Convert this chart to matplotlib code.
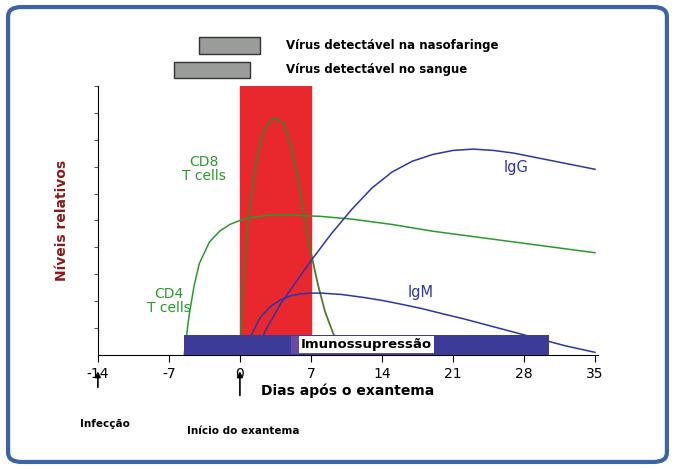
import matplotlib
matplotlib.use("Agg")
import matplotlib.pyplot as plt
from matplotlib.patches import FancyBboxPatch, Rectangle

# data (relative levels)
cd8_x = [0, 0.3, 0.8, 1.5, 2.2, 3.0, 3.6, 4.3, 5.0, 5.7, 6.4, 7.0, 7.7, 8.4, 9.2, 10.0, 10.6]
cd8_y = [0, 2.5, 5.0, 7.0, 8.2, 8.7, 8.8, 8.6, 7.8, 6.6, 5.0, 3.8, 2.6, 1.6, 0.8, 0.2, 0]
cd4_x = [-5.5, -5.0, -4.5, -4.0, -3.0, -2.0, -1.0, 0, 1, 3, 5, 8, 11, 15, 19, 23, 27, 31, 35]
cd4_y = [0, 1.5, 2.6, 3.4, 4.2, 4.6, 4.85, 5.0, 5.1, 5.2, 5.2, 5.15, 5.05, 4.85, 4.6, 4.4, 4.2, 4.0, 3.8]
igg_x = [1.5, 2.5, 4, 5.5, 7, 9, 11, 13, 15, 17, 19, 21, 23, 25, 27, 29, 31, 33, 35]
igg_y = [0, 0.9, 1.9, 2.7, 3.5, 4.5, 5.4, 6.2, 6.8, 7.2, 7.45, 7.6, 7.65, 7.6, 7.5, 7.35, 7.2, 7.05, 6.9]
igm_x = [0.5, 1.2, 2, 3, 4, 5, 6, 7, 8, 10, 12, 14, 16, 18, 20, 22, 24, 26, 28, 30, 32, 35]
igm_y = [0, 0.8, 1.4, 1.8, 2.05, 2.2, 2.27, 2.3, 2.3, 2.25, 2.15, 2.03, 1.88, 1.72, 1.53, 1.35, 1.15, 0.95, 0.75, 0.55, 0.35, 0.1]
rash = (0, 7)
immuno = (-5.5, 30.5)
immuno_inner = (5, 19)
naso = (-4, 2)
blood = (-6.5, 1)
xticks = [-14, -7, 0, 7, 14, 21, 28, 35]

GREEN = "#2a9a2a"
BLUE = "#2b36a8"

fig = plt.figure(figsize=(6.75, 4.69), dpi=100)
frame = FancyBboxPatch((0.012, 0.015), 0.976, 0.97, boxstyle="round,pad=0,rounding_size=0.02",
                       transform=fig.transFigure, fc="white", ec="#3a63a8", lw=3, zorder=-10)
fig.patches.append(frame)
ax = fig.add_axes([0.145, 0.243, 0.741, 0.574])
ax.patch.set_alpha(0)
ax.set_xlim(-14, 35.3)
ax.set_ylim(0, 10)

ax.axvspan(*rash, color="#e8282c", zorder=1)
ax.plot(cd4_x, cd4_y, color=GREEN, lw=1.1, zorder=3)
ax.plot(cd8_x, cd8_y, color="#4f7a2a", lw=1.3, zorder=3)
ax.plot(igg_x, igg_y, color=BLUE, lw=1.1, zorder=3)
ax.plot(igm_x, igm_y, color=BLUE, lw=1.1, zorder=3)

ax.add_patch(Rectangle((immuno[0], 0), immuno[1] - immuno[0], 0.75, fc="#3c3c98", ec="none", zorder=4))
ax.add_patch(Rectangle((immuno_inner[0], 0.05), immuno_inner[1] - immuno_inner[0], 0.65, fc="#6a4aa8", ec="none", zorder=4))
ax.text(12.5, 0.38, "Imunossupressão", ha="center", va="center", fontsize=9.5, fontweight="bold", zorder=5,
        bbox=dict(fc="white", ec="none", pad=1.5))

for (a, b), y0 in [(naso, 11.2), (blood, 10.3)]:
    ax.add_patch(Rectangle((a, y0), b - a, 0.6, fc="#9a9c9a", ec="#333333", lw=1, clip_on=False))
ax.text(4.5, 11.5, "Vírus detectável na nasofaringe", fontsize=8.5, fontweight="bold", va="center")
ax.text(4.5, 10.6, "Vírus detectável no sangue", fontsize=8.5, fontweight="bold", va="center")

ax.text(-3.5, 6.9, "CD8\nT cells", color=GREEN, fontsize=10, ha="center", va="center", linespacing=1.0)
ax.text(-7.0, 2.0, "CD4\nT cells", color=GREEN, fontsize=10, ha="center", va="center", linespacing=1.0)
ax.text(26, 6.8, "IgG", color=BLUE, fontsize=10.5)
ax.text(16.5, 2.15, "IgM", color=BLUE, fontsize=10.5)

for s in ["top", "right"]:
    ax.spines[s].set_visible(False)
ax.set_xticks(xticks)
ax.set_xticklabels([str(t) for t in xticks], fontsize=10)
ax.set_yticks(range(1, 11))
ax.set_yticklabels([])
ax.tick_params(axis="y", length=3, color="#555555")
ax.tick_params(axis="x", length=5)
ax.set_xlabel("Dias após o exantema", fontsize=10, fontweight="bold", labelpad=2)
ax.set_ylabel("Níveis relativos", fontsize=10, fontweight="bold", color="#8b1a1a", labelpad=14)

for x, ytop in [(-14, -1.3), (0, -1.6)]:
    ax.annotate("", xy=(x, -0.5), xytext=(x, ytop), annotation_clip=False,
                arrowprops=dict(arrowstyle="-|>", color="black", lw=1.2, mutation_scale=8))
fig.text(0.155, 0.09, "Infecção", fontsize=7.5, fontweight="bold", ha="center")
fig.text(0.36, 0.075, "Início do exantema", fontsize=7.5, fontweight="bold", ha="center")

fig.savefig("out.png", dpi=100)
